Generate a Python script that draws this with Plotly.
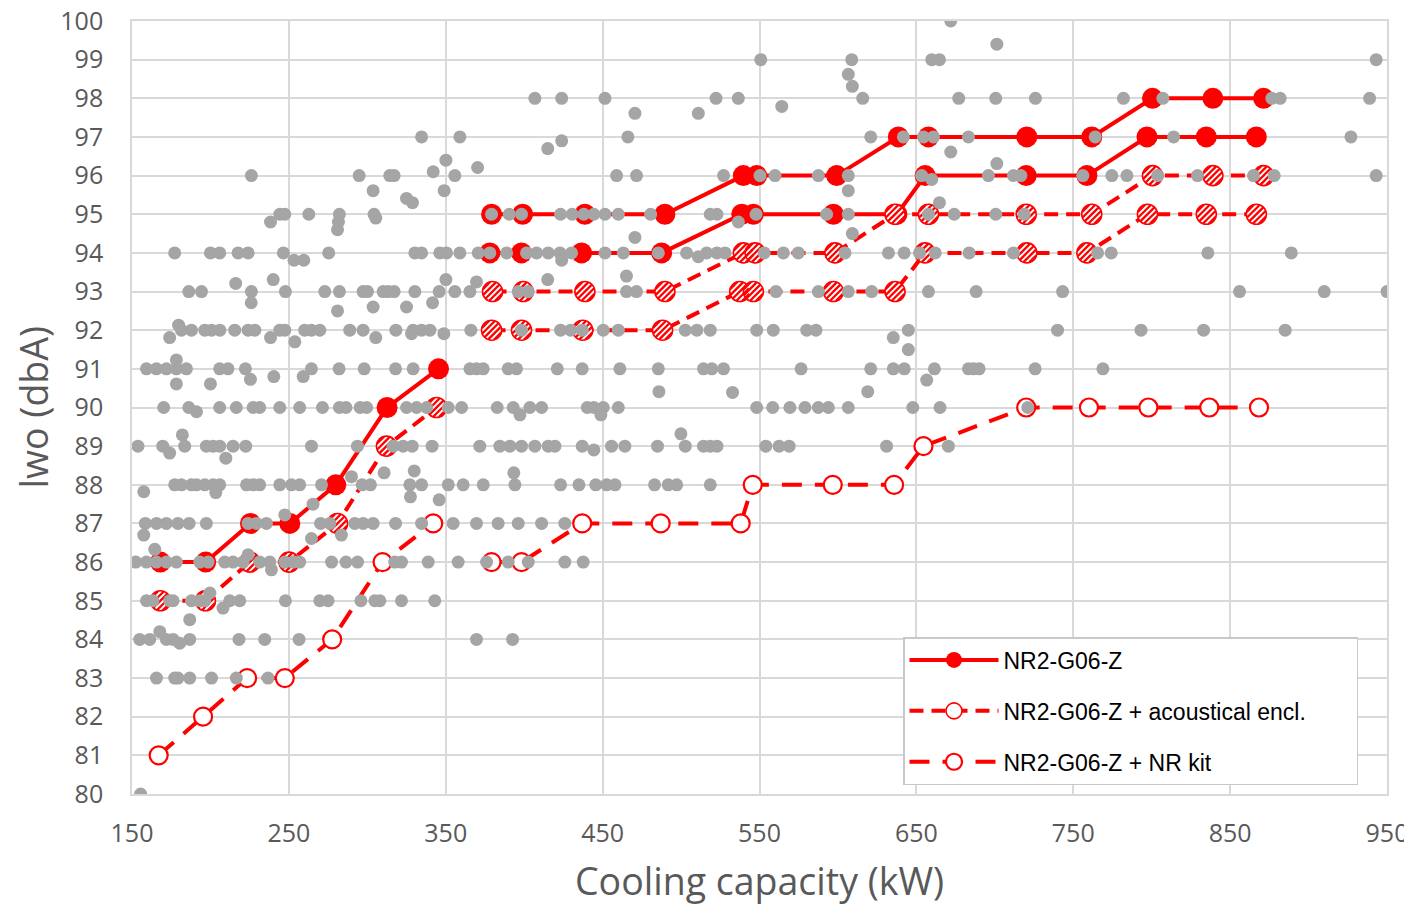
import math
import plotly.graph_objects as go

# ---------------- data ----------------
solid_left_x = [168.1, 197.0, 225.5, 250.6, 279.9, 312.6, 345.4]
solid_left_y = [86, 86, 87, 87, 88, 90, 91]
solid_up_x = [379.2, 399.0, 438.7, 489.7, 539.7, 548.2, 599.2, 638.5, 657.7, 720.4, 761.8, 800.5, 839.0, 871.3]
solid_up_y = [95, 95, 95, 95, 96, 96, 96, 97, 97, 97, 97, 98, 98, 98]
solid_low_x = [378.1, 398.3, 436.6, 487.6, 538.7, 546.1, 597.1, 637.6, 655.6, 720.0, 758.7, 797.0, 834.8, 866.7]
solid_low_y = [94, 94, 94, 94, 95, 95, 95, 95, 96, 96, 96, 97, 97, 97]

hatch_left_x = [168.1, 196.8, 225.1, 250.1, 281.0, 312.2, 344.1]
hatch_left_y = [85, 85, 86, 86, 87, 89, 90]
hatch_up_x = [379.8, 399.4, 438.7, 489.7, 539.7, 547.2, 598.1, 636.4, 657.7, 720.0, 761.8, 800.5, 839.0, 871.3]
hatch_up_y = [93, 93, 93, 93, 94, 94, 94, 95, 95, 95, 95, 96, 96, 96]
hatch_low_x = [379.2, 398.3, 437.3, 488.2, 537.4, 546.1, 597.1, 636.4, 655.5, 720.4, 758.7, 797.3, 834.8, 866.7]
hatch_low_y = [92, 92, 92, 92, 93, 93, 93, 93, 94, 94, 94, 95, 95, 95]

open_left_x = [167.0, 195.3, 223.4, 247.4, 277.6, 309.7, 342.0]
open_left_y = [81, 82, 83, 83, 84, 86, 87]
open_right_x = [379.2, 398.3, 437.0, 487.0, 538.0, 545.7, 596.7, 635.8, 654.5, 720.0, 760.0, 797.9, 836.7, 868.4]
open_right_y = [86, 86, 87, 87, 87, 88, 88, 88, 89, 90, 90, 90, 90, 90]

gray_rows_y = [100, 99.4, 99, 98.62, 98.31, 98, 97.79, 97.61, 97, 96.9, 96.7, 96.61, 96.4, 96.31, 96.21, 96.1,
               96, 95.9, 95.61, 95.41, 95.3, 95, 94.9, 94.8, 94.6, 94.5, 94.4, 94, 93.9, 93.81, 93.4, 93.31,
               93.25, 93.21, 93, 92.71, 92.6, 92.5, 92.13, 92, 91.91, 91.81, 91.7, 91.5, 91.23, 91, 90.8,
               90.73, 90.71, 90.61, 90.41, 90.39, 90, 89.89, 89.81, 89.32, 89.29, 89, 88.9, 88.82, 88.69,
               88.36, 88.31, 88.21, 88, 87.82, 87.8, 87.69, 87.61, 87.5, 87.22, 87, 86.7, 86.61, 86.33,
               86.19, 86, 85.8, 85.2, 85, 84.81, 84.51, 84.2, 84, 83.9, 83, 80]
gray_rows_x = [
    [671.9], [701.3], [550.8, 608.8, 659.8, 664.7, 943.1], [606.6], [609.2],
    [406.8, 423.9, 451.5, 522.3, 536.5, 615.8, 677.0, 700.6, 725.9, 782.0, 807.1, 876.6, 881.9, 938.9],
    [564.2], [470.6, 511.0],
    [334.6, 359.0, 466.1, 620.9, 641.7, 654.5, 660.9, 683.2, 764.0, 814.0, 927.0],
    [423.9], [415.0], [671.9], [350.1], [701.3], [370.3], [342.0],
    [226.1, 294.8, 314.3, 317.1, 355.8, 458.9, 471.6, 527.1, 550.3, 559.9, 587.5, 606.6, 653.4, 695.9,
     711.9, 716.6, 756.1, 774.6, 784.2, 803.9, 829.2, 864.9, 878.1, 943.1],
    [659.8], [303.7, 349.0, 606.6], [325.0], [328.8, 664.7],
    [244.2, 247.4, 262.7, 282.2, 304.3, 379.2, 390.5, 398.3, 423.2, 430.6, 438.0, 444.4, 451.5, 460.0,
     480.6, 518.6, 522.9, 547.8, 592.8, 606.6, 657.7, 674.1, 700.6, 718.7],
    [305.4], [238.3, 281.6, 536.5], [281.0], [609.2], [470.6],
    [177.2, 200.0, 205.9, 217.6, 224.0, 246.5, 275.4, 330.3, 334.6, 346.2, 350.5, 359.0, 370.7, 378.1,
     388.8, 401.5, 407.9, 415.3, 422.8, 430.2, 451.5, 463.2, 485.5, 503.5, 516.3, 522.9, 528.0, 553.0,
     565.2, 574.7, 604.5, 632.2, 642.2, 652.0, 662.0, 683.6, 711.9, 765.5, 774.2, 835.8, 889.0],
    [511.0], [253.3, 259.5, 423.9], [465.2], [240.0, 350.1, 415.0], [369.6], [216.1],
    [186.2, 194.3, 226.1, 247.8, 272.9, 282.2, 297.3, 300.1, 310.1, 313.3, 317.1, 330.3, 345.8, 355.8,
     365.4, 396.2, 402.6, 465.2, 471.6, 560.5, 587.5, 606.6, 621.5, 657.7, 688.1, 743.2, 856.0, 910.0, 950.0],
    [226.0, 341.6], [303.7, 325.0], [281.0], [179.7],
    [181.5, 187.9, 196.4, 200.7, 206.0, 215.5, 224.0, 228.3, 244.2, 247.4, 260.1, 264.4, 269.7, 288.8,
     297.3, 318.2, 329.2, 334.6, 339.9, 366.0, 398.3, 423.2, 429.6, 437.0, 450.4, 460.0, 502.7, 510.1,
     518.6, 548.2, 558.8, 580.1, 586.0, 644.9, 740.0, 793.2, 833.1, 885.1],
    [328.2, 348.8], [174.0, 238.3, 305.4, 635.3], [253.8], [644.9], [178.3],
    [159.2, 165.6, 171.9, 178.3, 184.7, 205.9, 211.2, 222.3, 264.4, 282.0, 298.0, 318.0, 329.2, 365.4,
     369.6, 373.9, 389.8, 395.1, 421.1, 437.0, 461.0, 485.5, 514.3, 519.6, 527.1, 576.5, 620.9, 635.3,
     642.3, 661.5, 683.2, 686.4, 690.0, 725.7, 768.9],
    [240.4, 259.1], [225.5], [656.6], [178.3, 200.0], [485.9, 619.0], [532.8],
    [170.2, 186.2, 205.9, 216.5, 227.2, 231.4, 244.2, 256.9, 271.4, 282.2, 286.4, 295.4, 299.6, 325.0,
     331.4, 337.8, 351.6, 360.1, 382.8, 393.0, 403.6, 411.1, 440.2, 444.4, 450.4, 460.0, 548.2, 558.4,
     569.4, 579.0, 587.5, 593.9, 606.6, 647.7, 665.1, 721.0],
    [191.1], [397.3, 448.9], [499.9], [182.1],
    [153.8, 169.6, 183.6, 197.4, 201.7, 205.9, 214.4, 222.5, 264.4, 293.7, 316.5, 322.8, 328.6, 341.3,
     371.7, 384.5, 390.9, 398.3, 406.8, 415.3, 419.6, 437.0, 455.7, 464.2, 485.0, 502.7, 514.3, 518.6,
     522.9, 554.0, 562.5, 568.9, 631.0, 670.4],
    [444.4], [174.0], [209.8], [329.9], [310.7, 393.4], [289.9],
    [177.2, 181.5, 187.9, 191.1, 196.4, 201.7, 205.9, 223.0, 227.2, 231.4, 244.2, 251.7, 256.9, 270.8,
     296.7, 302.0, 327.1, 334.6, 351.6, 361.1, 373.9, 394.1, 423.2, 434.9, 445.6, 452.6, 457.9, 483.1,
     491.8, 497.2, 518.6],
    [157.5], [203.4], [327.5], [345.8], [265.4], [247.4],
    [158.5, 165.6, 171.9, 179.3, 186.4, 197.4, 224.0, 229.3, 235.7, 270.2, 276.1, 292.0, 297.3, 303.7,
     318.0, 334.6, 354.7, 369.6, 383.4, 396.2, 411.1, 425.9],
    [157.5, 283.5], [264.4], [164.5], [224.0],
    [152.4, 159.2, 165.6, 171.9, 178.3, 193.2, 198.5, 209.1, 214.4, 220.8, 231.4, 237.8, 247.4, 252.7,
     256.9, 277.2, 286.4, 293.8, 317.5, 321.8, 338.8, 357.9, 376.0, 389.8, 402.6, 425.9, 437.6],
    [238.9], [199.6],
    [159.2, 163.4, 174.0, 176.2, 187.9, 193.2, 196.4, 212.3, 218.7, 247.8, 269.7, 275.0, 295.9, 304.8,
     308.0, 321.8, 343.0],
    [208.0], [186.8], [167.7],
    [154.9, 161.3, 171.9, 176.2, 186.8, 218.2, 234.6, 256.5, 369.6, 392.6],
    [180.4],
    [165.6, 177.2, 179.3, 186.8, 200.7, 216.5, 236.7],
    [155.5],
]
gray_x = [x for xs in gray_rows_x for x in xs]
gray_y = [y for y, xs in zip(gray_rows_y, gray_rows_x) for _ in xs]

x_ticks = [150, 250, 350, 450, 550, 650, 750, 850, 950]
y_ticks = list(range(80, 101))
x_title = "Cooling capacity (kW)"
y_title = "lwo (dbA)"
legend_names = ["NR2-G06-Z", "NR2-G06-Z + acoustical encl.", "NR2-G06-Z + NR kit"]

# ---------------- layout constants ----------------
# the page body adds an 8px offset; size the figure so the plot lands where the reference has it
W, H = 1404, 906
ML, MR, MT, MB = 124, 25, 13, 120
XR = [150, 950]
YR = [80, 100]
PW = W - ML - MR
PH = H - MT - MB
ppx = PW / (XR[1] - XR[0])
ppy = PH / (YR[1] - YR[0])

RED = "#FF0000"
GRAY = "#A5A5A5"
GRID = "#D9D9D9"
TXT = "#595959"

fig = go.Figure()

def add_series(xs, ys, kind, show):
    if kind == "solid":
        fig.add_trace(go.Scatter(
            x=xs, y=ys, mode="lines+markers", name=legend_names[0], legendgroup="a", showlegend=show,
            line=dict(color=RED, width=4),
            marker=dict(symbol="circle", size=21, color=RED, line=dict(width=0))))
    elif kind == "hatch":
        fig.add_trace(go.Scatter(
            x=xs, y=ys, mode="lines+markers", name=legend_names[1] + "\u00a0" * 7, legendgroup="b",
            showlegend=show,
            line=dict(color=RED, width=4, dash="14px,8px"),
            marker=dict(symbol="circle", size=20, color="white", line=dict(color=RED, width=1.6))))
    else:
        fig.add_trace(go.Scatter(
            x=xs, y=ys, mode="lines+markers", name=legend_names[2], legendgroup="c", showlegend=show,
            line=dict(color=RED, width=4, dash="20px,13px"),
            marker=dict(symbol="circle", size=18, color="white", line=dict(color=RED, width=2.2))))

add_series(solid_left_x, solid_left_y, "solid", True)
add_series(solid_up_x, solid_up_y, "solid", False)
add_series(solid_low_x, solid_low_y, "solid", False)
add_series(hatch_left_x, hatch_left_y, "hatch", True)
add_series(hatch_up_x, hatch_up_y, "hatch", False)
add_series(hatch_low_x, hatch_low_y, "hatch", False)
add_series(open_left_x, open_left_y, "open", True)
add_series(open_right_x, open_right_y, "open", False)

# hatch stripes: parallel "/" strokes drawn on overlay axes offset by a few pixels
R = 9.8
SP = 4.2
offsets = [-2, -1, 0, 1, 2]
layout_axes = {}
hx = hatch_left_x + hatch_up_x + hatch_low_x
hy = hatch_left_y + hatch_up_y + hatch_low_y
for i, k in enumerate(offsets):
    n = i + 2
    d = k * SP / math.sqrt(2)  # pixels right & down
    layout_axes[f"xaxis{n}"] = dict(overlaying="x", range=[XR[0] - d / ppx, XR[1] - d / ppx], visible=False,
                                    fixedrange=True)
    layout_axes[f"yaxis{n}"] = dict(overlaying="y", range=[YR[0] + d / ppy, YR[1] + d / ppy], visible=False,
                                    fixedrange=True)
    half = math.sqrt(max(R * R - (k * SP) ** 2, 0))
    size = 2 * half / math.sqrt(2)
    fig.add_trace(go.Scatter(
        x=hx, y=hy, xaxis=f"x{n}", yaxis=f"y{n}", mode="markers", showlegend=False, hoverinfo="skip",
        marker=dict(symbol="line-ne", size=size, color=RED, line=dict(color=RED, width=2.3))))

ng = len(offsets) + 2
layout_axes[f"xaxis{ng}"] = dict(overlaying="x", range=XR, visible=False, fixedrange=True)
layout_axes[f"yaxis{ng}"] = dict(overlaying="y", range=YR, visible=False, fixedrange=True)
fig.add_trace(go.Scatter(
    x=gray_x, y=gray_y, xaxis=f"x{ng}", yaxis=f"y{ng}", mode="markers", showlegend=False,
    marker=dict(symbol="circle", size=13, color=GRAY, line=dict(width=0))))

axis_common = dict(showgrid=True, gridcolor=GRID, gridwidth=1.6, showline=True, linecolor=GRID, linewidth=1.6,
                   mirror=True, zeroline=False, ticks="", ticklabeloverflow="allow",
                   tickfont=dict(size=25, color=TXT), automargin=False, fixedrange=True)

fig.update_layout(
    width=W, height=H,
    margin=dict(l=ML, r=MR, t=MT, b=MB, autoexpand=False),
    paper_bgcolor="white", plot_bgcolor="white",
    font=dict(family="Open Sans, DejaVu Sans, sans-serif", color=TXT),
    xaxis=dict(range=XR, tickvals=x_ticks, ticklabelstandoff=16, **axis_common),
    yaxis=dict(range=YR, tickvals=y_ticks, ticklabelstandoff=22, **axis_common),
    legend=dict(x=(895 - ML) / PW, y=(H - MB - 629) / PH, xanchor="left", yanchor="top",
                bgcolor="white", bordercolor="#C8C8C8", borderwidth=1.5,
                font=dict(family="Liberation Sans, Arial, sans-serif", size=23, color="#000000"),
                tracegroupgap=18, traceorder="grouped", itemwidth=89),
    showlegend=True,
    annotations=[
        dict(text=x_title, xref="paper", yref="paper", x=0.5, y=0, xanchor="center", yanchor="middle",
             yshift=-86, showarrow=False, font=dict(size=37.5, color=TXT)),
        dict(text=y_title, xref="paper", yref="paper", x=0, y=0.5, xanchor="center", yanchor="middle",
             xshift=-99, textangle=-90, showarrow=False, font=dict(size=37.5, color=TXT)),
    ],
    **layout_axes,
)

fig.write_html("out.html")
